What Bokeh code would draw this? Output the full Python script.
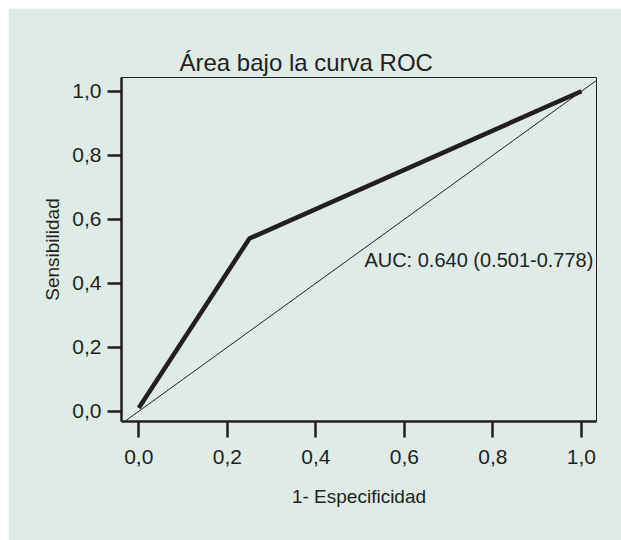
from bokeh.plotting import figure
from bokeh.models import Range1d, FixedTicker, CustomJSTickFormatter, Slope, Label, Title
from bokeh.embed import file_html
from bokeh.resources import INLINE

# Data
fpr = [0.0, 0.25, 1.0]          # 1 - Especificidad
tpr = [0.01, 0.54, 1.0]         # Sensibilidad
tick_values = [0.0, 0.2, 0.4, 0.6, 0.8, 1.0]
auc_text = "AUC: 0.640 (0.501-0.778)"
title_text = "Área bajo la curva ROC"
x_label = "1- Especificidad"
y_label = "Sensibilidad"

BG = "#deebe7"
INK = "#231f20"
FONT = "Liberation Sans"

p = figure(width=613, height=532, output_backend="svg", toolbar_location=None,
           x_range=Range1d(-0.039, 1.034), y_range=Range1d(-0.032, 1.043),
           min_border_left=113, min_border_right=25, min_border_top=69, min_border_bottom=119)
p.margin = (8, 0, 0, 8)
p.background_fill_color = BG
p.border_fill_color = BG
p.outline_line_color = INK
p.outline_line_width = 1
p.grid.visible = False

t = Title(text=title_text, align="left", offset=58, text_font=FONT,
          text_font_size="24px", text_font_style="normal", text_color=INK, standoff=4)
p.add_layout(t, "above")

fmt = CustomJSTickFormatter(code="return tick.toFixed(1).replace('.', ',');")
for ax in (p.xaxis[0], p.yaxis[0]):
    ax.ticker = FixedTicker(ticks=tick_values)
    ax.formatter = fmt
    ax.axis_line_width = 2.5
    ax.axis_line_color = INK
    ax.major_tick_line_width = 2.5
    ax.major_tick_line_color = INK
    ax.major_tick_in = 0
    ax.minor_tick_line_color = None
    ax.major_label_text_font = FONT
    ax.major_label_text_font_size = "21px"
    ax.major_label_text_color = INK
    ax.axis_label_text_font = FONT
    ax.axis_label_text_font_size = "19px"
    ax.axis_label_text_font_style = "normal"
    ax.axis_label_text_color = INK

p.xaxis[0].major_tick_out = 16
p.xaxis[0].major_label_standoff = 12
p.xaxis[0].axis_label = x_label
p.xaxis[0].axis_label_standoff = 19
p.yaxis[0].major_tick_out = 14
p.yaxis[0].major_label_standoff = 6
p.yaxis[0].axis_label = y_label
p.yaxis[0].axis_label_standoff = 6

p.add_layout(Slope(gradient=1, y_intercept=0, line_color=INK, line_width=1))
p.line(fpr, tpr, line_color=INK, line_width=4.5, line_join="miter")

p.add_layout(Label(x=1.027, y=0.474, text=auc_text, text_align="right", text_baseline="middle",
                   text_font=FONT, text_font_size="20px", text_color=INK))

open("out.html", "w").write(file_html(p, INLINE))
